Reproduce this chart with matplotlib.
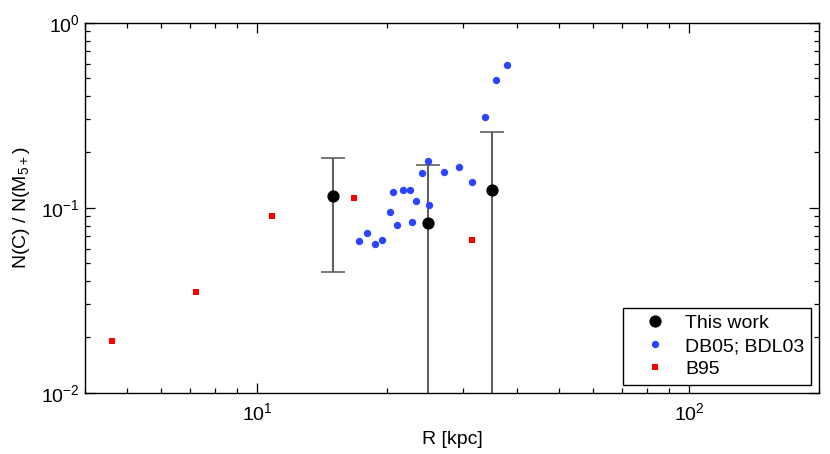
import matplotlib
matplotlib.use("Agg")
import matplotlib.pyplot as plt
import numpy as np

plt.rcParams['font.family'] = ['Liberation Sans', 'DejaVu Sans']
plt.rcParams['mathtext.fontset'] = 'custom'
plt.rcParams['mathtext.rm'] = 'Liberation Sans'
plt.rcParams['mathtext.it'] = 'Liberation Sans:italic'

# This work (with error bars)
tw_r = [15.0, 24.9, 35.0]
tw_ratio = [0.115, 0.083, 0.125]
tw_upper = [0.186, 0.170, 0.258]
tw_lower = [0.0448, 0.001, 0.001]

# DB05; BDL03
db_r = [17.2, 17.97, 18.73, 19.5, 20.3, 21.06, 20.64, 21.82, 22.61, 23.34,
        22.8, 24.13, 24.88, 24.97, 27.14, 29.31, 31.5, 33.65, 35.8, 37.96]
db_ratio = [0.0661, 0.0731, 0.0635, 0.0665, 0.0949, 0.0804, 0.1217, 0.1254, 0.1239, 0.1088,
            0.0842, 0.1542, 0.1784, 0.1031, 0.1555, 0.1662, 0.1385, 0.3084, 0.4931, 0.5913]

# B95
b95_r = [4.61, 7.21, 10.81, 16.8, 31.5]
b95_ratio = [0.0190, 0.0350, 0.0902, 0.1124, 0.0667]

fig = plt.figure(figsize=(8.30, 4.54), dpi=100)
ax = fig.add_axes([0.1024, 0.135, 0.8843, 0.815])
ax.set_xscale('log')
ax.set_yscale('log')

yerr = np.array([np.array(tw_ratio) - np.array(tw_lower),
                 np.array(tw_upper) - np.array(tw_ratio)])
ax.errorbar(tw_r, tw_ratio, yerr=yerr, fmt='none', ecolor='#606060',
            elinewidth=1.5, capsize=8.5, capthick=1.2, zorder=2)
ax.plot(tw_r, tw_ratio, 'o', color='black', markersize=7.8, linestyle='none',
        label='This work', zorder=4)
ax.plot(db_r, db_ratio, 'o', color='#2a44ff', markersize=5.3, linestyle='none',
        markeredgewidth=0, label='DB05; BDL03', zorder=3)
ax.plot(b95_r, b95_ratio, 's', color='#ff0000', markersize=4.4, linestyle='none',
        markeredgewidth=0, label='B95', zorder=3)

ax.set_xlim(4.0, 200)
ax.set_ylim(0.01, 1)

ax.tick_params(which='both', direction='in', top=True, right=True, labelsize=14)
ax.tick_params(axis='x', which='both', pad=7)
ax.tick_params(axis='y', which='both', pad=4)
ax.tick_params(which='major', length=7, width=0.9)
ax.tick_params(which='minor', length=3.5, width=0.9)
for s in ax.spines.values():
    s.set_linewidth(1.0)

ax.set_xlabel('R [kpc]', fontsize=14, labelpad=5)
ax.set_ylabel(r'N(C) / N(M$_{5+}$)', fontsize=14, labelpad=6)

leg = ax.legend(loc='lower right', fontsize=14, frameon=True, fancybox=False,
                edgecolor='black', framealpha=1, borderaxespad=0.4,
                handlelength=2.5, handletextpad=0.3, labelspacing=0.27,
                borderpad=0.36)
leg.get_frame().set_linewidth(1.0)

fig.savefig('out.png', dpi=100)
